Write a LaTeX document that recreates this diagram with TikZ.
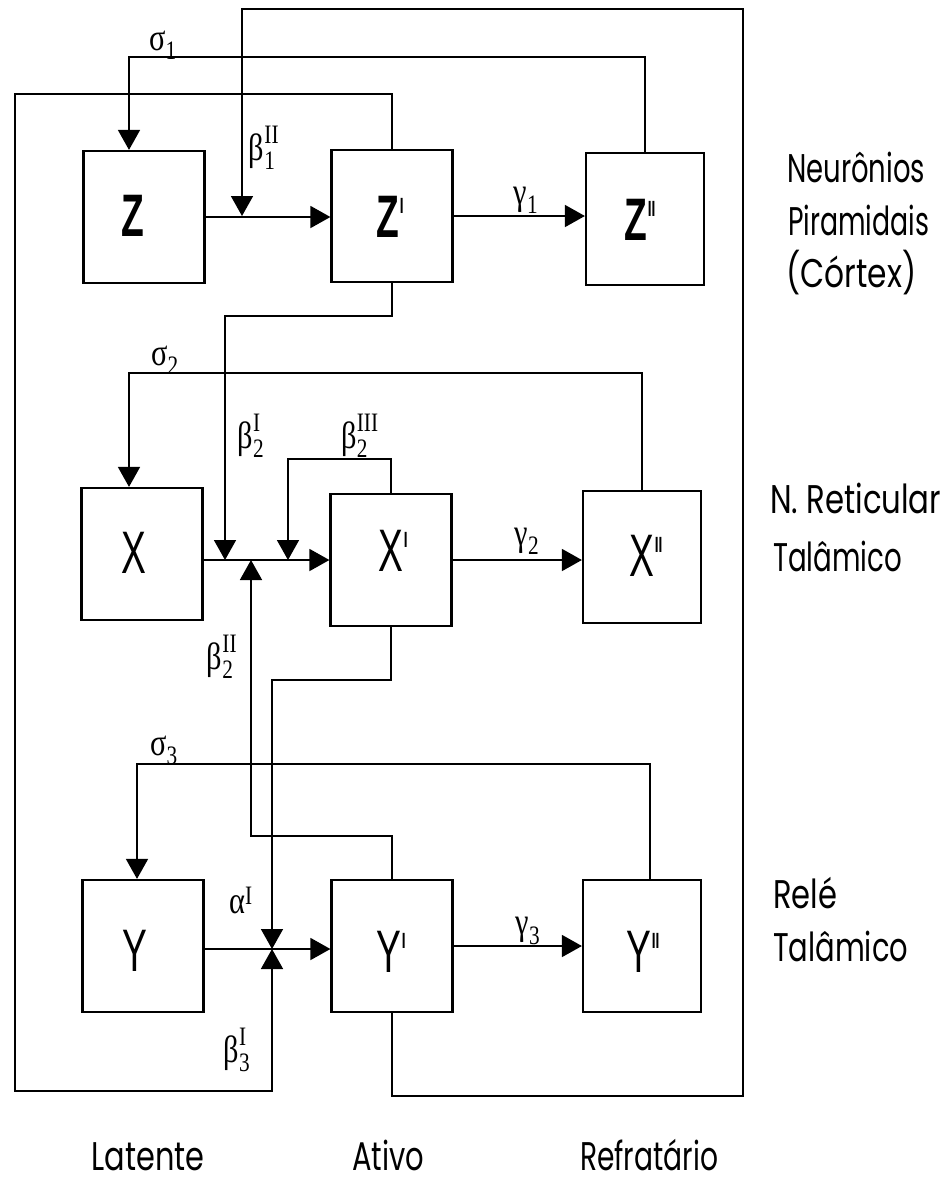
\documentclass[tikz,border=0pt]{standalone}
\usepackage{fontspec}
\usepackage{amsmath}
\usepackage{graphicx}
\usetikzlibrary{arrows.meta,calc}
\newfontfamily\lblfont{Poppins}
\newfontfamily\gkfont{Liberation Serif}
\newfontfamily\boxfont{Liberation Sans}
% box label: letter + superscript bars
\newcommand\bl[2]{\scalebox{0.62}[1]{\boxfont\fontsize{60}{60}\selectfont #1\hspace{1pt}\raisebox{24pt}{\fontsize{22}{22}\selectfont\bfseries #2}}}
% greek label with sub and sup
\newcommand\gss[3]{\scalebox{0.8}[1]{\gkfont\fontsize{38}{38}\selectfont$\text{#1}_{\text{#2}}^{\text{#3}}$}}
\newcommand\gs[2]{\scalebox{0.8}[1]{\gkfont\fontsize{38}{38}\selectfont$\text{#1}_{\text{#2}}$}}
\newcommand\gp[2]{\scalebox{0.8}[1]{\gkfont\fontsize{38}{38}\selectfont$\text{#1}^{\text{#2}}$}}
\begin{document}
\begin{tikzpicture}[x=1pt,y=-1pt,
  box/.style={draw, line width=2.2pt, minimum width=121pt, minimum height=132pt, inner sep=0pt},
  rbox/.style={box, minimum width=118pt},
  wire/.style={line width=1.6pt},
  arr/.style={wire, -{Triangle[length=20pt,width=22pt]}},
  lab/.style={inner sep=0pt},
  side/.style={anchor=base west, inner sep=0pt, font=\lblfont\fontsize{40}{40}\selectfont},
  bot/.style={anchor=base, inner sep=0pt, font=\lblfont\fontsize{40}{40}\selectfont}]

\useasboundingbox (0,0) rectangle (944,1187);

% boxes
\node[box]  (Z)   at (144,217) {};
\node[box]  (Zp)  at (392,216) {};
\node[rbox] (Zpp) at (645,219) {};
\node[box]  (X)   at (142,554) {};
\node[box]  (Xp)  at (391,560) {};
\node[rbox] (Xpp) at (642,557) {};
\node[box]  (Y)   at (143,946) {};
\node[box]  (Yp)  at (392,946) {};
\node[rbox] (Ypp) at (642,946) {};

% box labels
\node[lab] (lZ)   at (133,216) {\bl{\bfseries Z}{}};
\node[lab] (lZp)  at (390,217) {\bl{\bfseries Z}{I}};
\node[lab] (lZpp) at (640,220) {\bl{\bfseries Z}{II}};
\node[lab] (lX)   at (134,553) {\bl{X}{}};
\node[lab] (lXp)  at (393,551) {\bl{X}{I}};
\node[lab] (lXpp) at (646,556) {\bl{X}{II}};
\node[lab] (lY)   at (135,951) {\bl{Y}{}};
\node[lab] (lYp)  at (391,952) {\bl{Y}{I}};
\node[lab] (lYpp) at (643,952) {\bl{Y}{II}};

% row lines
\coordinate (yrow) at (0,949);

% junctions on the transition lines
\coordinate (jZ)  at (242,216);
\coordinate (jX1) at (225,560);
\coordinate (jX2) at (288,560);
\coordinate (jX3) at (251,560);
\coordinate (jY)  at (272,949);

% routing points
\coordinate (s1)  at (129,57);
\coordinate (s2)  at (129,373);
\coordinate (s3)  at (137,764);
\coordinate (s3r) at (650,764);
\coordinate (b3a) at (15,94);
\coordinate (b3b) at (15,1091);
\coordinate (b2a) at (225,316);
\coordinate (b1a) at (743,1096);
\coordinate (b1b) at (743,9);
\coordinate (b23) at (288,459);
\coordinate (b22) at (251,836);
\coordinate (al)  at (272,680);

% state transitions
\draw[arr] (Z.east) -- (Z.east -| Zp.west);
\draw[arr] (Zp.east) -- (Zp.east -| Zpp.west);
\draw[arr] (X.east |- Xp.west) -- (Xp.west);
\draw[arr] (Xp.east) -- (Xp.east -| Xpp.west);
\draw[arr] (Y.east |- yrow) -- (Yp.west |- yrow);
\draw[arr] (Yp.east) -- (Yp.east -| Ypp.west);

% feedback: sigma
\draw[arr] (Zpp.north) |- (s1) -- (s1 |- Z.north);
\draw[arr] (Xpp.north) |- (s2) -- (s2 |- X.north);
\draw[arr] (Ypp.north -| s3r) -- (s3r) -- (s3) -- (s3 |- Y.north);

% coupling paths
\draw[arr] (Zp.north) |- (b3a) -- (b3b) -| (jY);
\draw[arr] (Zp.south) |- (b2a) -- (jX1);
\draw[arr] (Yp.south) |- (b1a) -- (b1b) -| (jZ);
\draw[arr] (Xp.north) |- (b23) -- (jX2);
\draw[arr] (Yp.north) |- (b22) -- (jX3);
\draw[arr] (Xp.south) |- (al) -- (jY);

% greek labels
\node[lab] (ls1)  at (163,45)   {\gs{σ}{1}};
\node[lab] (lb1)  at (264,148)  {\gss{β}{1}{II}};
\node[lab] (lg1)  at (526,200)  {\gs{γ}{1}};
\node[lab] (ls2)  at (165,360)  {\gs{σ}{2}};
\node[lab] (lb2a) at (251,436)  {\gss{β}{2}{I}};
\node[lab] (lb2c) at (360,436)  {\gss{β}{2}{III}};
\node[lab] (lg2)  at (527,541)  {\gs{γ}{2}};
\node[lab] (lb2b) at (222,657)  {\gss{β}{2}{II}};
\node[lab] (ls3)  at (164,750)  {\gs{σ}{3}};
\node[lab] (lal)  at (241,900)  {\gp{α}{I}};
\node[lab] (lg3)  at (528,931)  {\gs{γ}{3}};
\node[lab] (lb3)  at (237,1050) {\gss{β}{3}{I}};

% side texts
\node[side] (t1) at (787,182) {\resizebox{138pt}{\height}{Neurônios}};
\node[side] (t2) at (788,235) {\resizebox{141pt}{\height}{Piramidais}};
\node[side] (t3) at (786,287) {\resizebox{130pt}{\height}{(Córtex)}};
\node[side] (t4) at (770,513) {\resizebox{171pt}{\height}{N. Reticular}};
\node[side] (t5) at (773,571) {\resizebox{129pt}{\height}{Talâmico}};
\node[side] (t6) at (773,908) {\resizebox{64pt}{\height}{Relé}};
\node[side] (t7) at (773,961) {\resizebox{135pt}{\height}{Talâmico}};

% bottom texts
\node[bot] (tL) at (148,1170) {\resizebox{113pt}{\height}{Latente}};
\node[bot] (tA) at (388,1170) {\resizebox{72pt}{\height}{Ativo}};
\node[bot] (tR) at (649,1170) {\resizebox{138pt}{\height}{Refratário}};
\end{tikzpicture}
\end{document}
